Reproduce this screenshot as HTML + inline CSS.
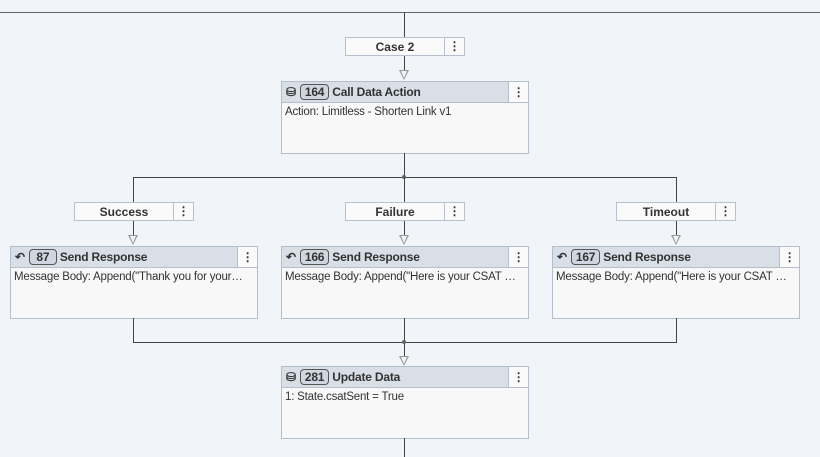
<!DOCTYPE html>
<html><head><style>
body{margin:0;width:820px;height:457px;background:#f1f4f9;position:relative;overflow:hidden;font-family:"Liberation Sans",sans-serif;font-size:12px;color:#333}
.l{position:absolute;background:#444}
.lab{position:absolute;height:19px;background:#fafafa;border:1px solid #b9c2cc;box-sizing:border-box;font-weight:bold;font-size:12px;line-height:19px}
.lab span{position:absolute;left:0;right:20px;text-align:center}
.lab i{position:absolute;right:0;top:0;width:19px;height:17px;line-height:17px;border-left:1px solid #b9c2cc;text-align:center;font-style:normal}
.node{position:absolute;width:248px;height:73px;border:1px solid #b4bfcb;box-sizing:border-box;background:#f8f8f8}
.hd{height:20px;background:#d9dfe7;border-bottom:1px solid #b4bfcb;position:relative;font-weight:bold;line-height:20px;padding-left:4px;letter-spacing:-0.2px}
.hd b.id{display:inline-block;border:1px solid #555;border-radius:4px;padding:0 4px;line-height:14px;margin:0 3px 0 4px;font-weight:bold;background:#d0d6df;min-width:18px;text-align:center}
.hd i{position:absolute;right:0;top:0;width:19px;height:20px;background:#fafafa;border-left:1px solid #b4bfcb;text-align:center;font-style:normal}
.bd{padding:3px 3px;white-space:nowrap;overflow:hidden;font-size:11.5px;letter-spacing:-0.2px}
.tri{position:absolute;width:0;height:0;border-left:5px solid transparent;border-right:5px solid transparent;border-top:10px solid #999}
.tri:after{content:"";position:absolute;left:-3px;top:-9px;border-left:3px solid transparent;border-right:3px solid transparent;border-top:7px solid #f1f4f9}
.dot{position:absolute;width:4px;height:4px;border-radius:2px;background:#666}
</style></head><body>
<div class="l" style="left:0;top:12px;width:820px;height:1px;background:#666"></div>
<div class="l" style="left:404px;top:12px;width:1px;height:59px"></div>
<div class="lab" style="left:345px;top:37px;width:120px"><span>Case 2</span><i>⋮</i></div>
<div class="tri" style="left:399px;top:70px"></div>
<div class="node" style="left:281px;top:81px"><div class="hd">⛁<b class="id">164</b>Call Data Action<i>⋮</i></div><div class="bd">Action: Limitless - Shorten Link v1</div></div>
<div class="l" style="left:404px;top:153px;width:1px;height:24px"></div>
<div class="l" style="left:133px;top:177px;width:544px;height:1px"></div>
<div class="dot" style="left:402px;top:175px"></div>

<div class="l" style="left:133px;top:177px;width:1px;height:59px"></div>
<div class="l" style="left:404px;top:177px;width:1px;height:59px"></div>
<div class="l" style="left:676px;top:177px;width:1px;height:59px"></div>
<div class="lab" style="left:74px;top:202px;width:120px"><span>Success</span><i>⋮</i></div>
<div class="lab" style="left:345px;top:202px;width:120px"><span>Failure</span><i>⋮</i></div>
<div class="lab" style="left:616px;top:202px;width:120px"><span>Timeout</span><i>⋮</i></div>
<div class="tri" style="left:128px;top:235px"></div>
<div class="tri" style="left:399px;top:235px"></div>
<div class="tri" style="left:671px;top:235px"></div>
<div class="node" style="left:10px;top:246px"><div class="hd">↶<b class="id">87</b>Send Response<i>⋮</i></div><div class="bd">Message Body: Append("Thank you for your…</div></div>
<div class="node" style="left:281px;top:246px"><div class="hd">↶<b class="id">166</b>Send Response<i>⋮</i></div><div class="bd">Message Body: Append("Here is your CSAT …</div></div>
<div class="node" style="left:552px;top:246px"><div class="hd">↶<b class="id">167</b>Send Response<i>⋮</i></div><div class="bd">Message Body: Append("Here is your CSAT …</div></div>

<div class="l" style="left:133px;top:318px;width:1px;height:24px"></div>
<div class="l" style="left:404px;top:318px;width:1px;height:38px"></div>
<div class="l" style="left:676px;top:318px;width:1px;height:24px"></div>
<div class="l" style="left:133px;top:342px;width:544px;height:1px"></div>
<div class="dot" style="left:402px;top:340px"></div>
<div class="tri" style="left:399px;top:356px"></div>
<div class="node" style="left:281px;top:366px"><div class="hd">⛁<b class="id">281</b>Update Data<i>⋮</i></div><div class="bd">1: State.csatSent = True</div></div>
<div class="l" style="left:404px;top:438px;width:1px;height:19px"></div>
</body></html>
